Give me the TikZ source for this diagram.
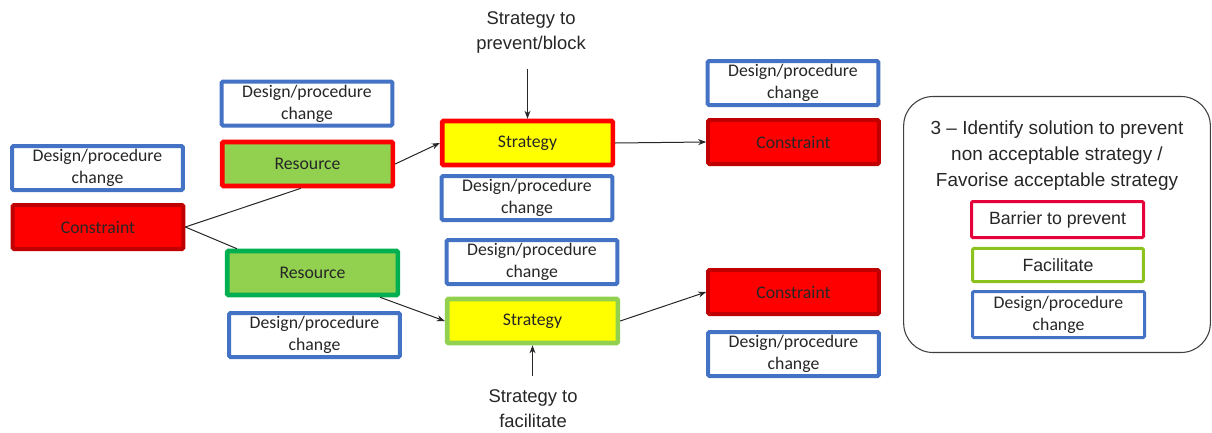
\documentclass[tikz,border=0pt]{standalone}
\usepackage{fontspec}
\setmainfont{Carlito}
\newfontfamily\arialfont{Liberation Sans}
\usetikzlibrary{arrows.meta}
\definecolor{dpblue}{RGB}{68,114,196}
\definecolor{cred}{RGB}{255,0,0}
\definecolor{cdarkred}{RGB}{192,0,0}
\definecolor{rgreen}{RGB}{146,208,80}
\definecolor{rdarkgreen}{RGB}{0,176,80}
\definecolor{syellow}{RGB}{255,255,0}
\definecolor{barred}{RGB}{228,0,58}
\definecolor{facgreen}{RGB}{140,194,30}

\begin{document}
\begin{tikzpicture}[x=0.75pt, y=-0.75pt, >={Stealth[length=6pt,width=4.5pt]},
  every node/.style={font=\fontsize{13.3}{16.5}\selectfont, text=black!85,
  align=center, inner sep=0pt},
  box/.style={draw, rectangle, rounded corners=1pt, minimum width=128pt,
  minimum height=33pt},
  dnode/.style={box, draw=dpblue, line width=3pt, fill=white},
  cnode/.style={box, draw=cdarkred, fill=cred, line width=3pt},
  rnode/.style={box, fill=rgreen, line width=3.5pt},
  stnode/.style={box, fill=syellow, line width=3.5pt},
  lbl/.style={font=\arialfont\fontsize{13.8}{18.75}\selectfont},
  conn/.style={line width=0.75pt, black!85}]
  \useasboundingbox (0,0) rectangle (1212,432);
  % Design/procedure change boxes
  \foreach \n/\x/\y in {d1/97.5/168, d2/307/103.5, d3/527/198, d4/793/83,
    d5/314.5/335, d6/532/262, d7/793.5/354} {
    \node[dnode] (\n) at (\x,\y) {Design/procedure\\change};
  }
  \node[cnode] (c1) at (98,227)    {Constraint};
  \node[cnode] (c2) at (793.5,142) {Constraint};
  \node[cnode] (c3) at (793.5,292) {Constraint};
  \node[rnode, draw=cred]       (r1) at (307.5,164) {Resource};
  \node[rnode, draw=rdarkgreen] (r2) at (312.5,273) {Resource};
  \node[stnode, draw=cred]   (s1) at (527.5,143) {Strategy};
  \node[stnode, draw=rgreen] (s2) at (532.5,321) {Strategy};
  \node[lbl] (ptop) at (531,32)  {Strategy to\\prevent/block};
  \node[lbl] (pbot) at (533,409) {Strategy to\\facilitate};
  % Legend
  \node[draw=black!75, line width=0.8pt, rounded corners=22pt,
    minimum width=230pt, minimum height=192pt] (legend) at (1057,224.5) {};
  \node[font=\arialfont\fontsize{14.2}{19.5}\selectfont] (lhead) at (1057,156)
    {3 – Identify solution to prevent\\non acceptable strategy /\\Favorise acceptable strategy};
  \node[box, draw=barred, line width=2.25pt, minimum width=129pt, minimum height=27pt,
    font=\arialfont\fontsize{13.3}{16.5}\selectfont] (lbar) at (1057.5,219.5) {Barrier to prevent};
  \node[box, draw=facgreen, line width=2.25pt, minimum width=128pt, minimum height=25pt,
    font=\arialfont\fontsize{13.3}{16.5}\selectfont] (lfac) at (1058,265) {Facilitate};
  \node[box, draw=dpblue, line width=2.25pt, minimum width=129pt,
    minimum height=34.5pt] (ldp) at (1058.5,314.5) {Design/procedure\\change};
  % Connectors
  \draw[conn] (c1.east) -- ([xshift=-5pt]r1.south);
  \draw[conn] (c1.east) -- ([xshift=9pt]r2.north west);
  \draw[conn, ->] (r1.east) -- (s1.west);
  \draw[conn, ->] ([xshift=-15pt]r2.south east) -- (s2.west);
  \draw[conn, ->] (s1.east) -- (c2.west);
  \draw[conn, ->] (s2.east) -- (c3.west);
  \draw[conn, ->] ([yshift=-12pt]ptop.south -| s1.north) -- (s1.north);
  \draw[conn, ->] ([yshift=10pt]pbot.north -| s2.south) -- (s2.south);
\end{tikzpicture}
\end{document}
